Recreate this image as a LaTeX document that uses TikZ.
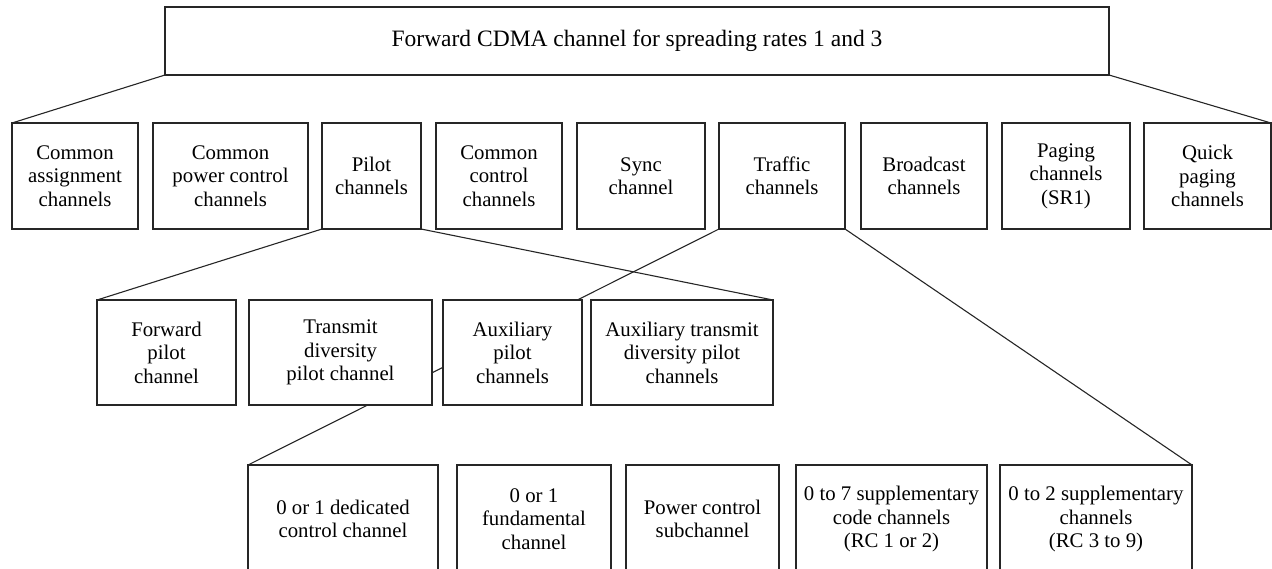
\documentclass[tikz,border=0pt]{standalone}
\usepackage{fontspec}
\setmainfont{Liberation Serif}
\usetikzlibrary{backgrounds}

\tikzset{
  chbox/.style={draw=black!85, line width=1.4pt, fill=white, inner sep=0pt, outer sep=0pt,
    align=center, font=\fontsize{20.8}{23.5}\selectfont},
  link/.style={draw=black!85, line width=1.1pt}
}

\begin{document}
\begin{tikzpicture}[x=1pt,y=-1pt]
  \useasboundingbox (0,0) rectangle (1272,569);
  \node[chbox, minimum width=944pt, minimum height=68pt, font=\fontsize{23.5}{27}\selectfont] (fwd) at (637,41) {Forward CDMA channel for spreading rates 1 and 3};

  \node[chbox, minimum width=126pt, minimum height=106pt] (cach) at (75,176) {Common\\assignment\\channels};
  \node[chbox, minimum width=155pt, minimum height=106pt] (cpcch) at (230.5,176) {Common\\power control\\channels};
  \node[chbox, minimum width=99pt, minimum height=106pt] (pilot) at (371.5,176) {Pilot\\channels};
  \node[chbox, minimum width=126pt, minimum height=106pt] (ccch) at (499,176) {Common\\control\\channels};
  \node[chbox, minimum width=128pt, minimum height=106pt] (sync) at (641,176) {Sync\\channel};
  \node[chbox, minimum width=126pt, minimum height=106pt] (traffic) at (782,176) {Traffic\\channels};
  \node[chbox, minimum width=126pt, minimum height=106pt] (bcch) at (924,176) {Broadcast\\channels};
  \node[chbox, minimum width=128pt, minimum height=106pt] (pch) at (1066,176) {Paging\\channels\\(SR1)};
  \node[chbox, minimum width=127pt, minimum height=106pt] (qpch) at (1207.5,176) {Quick\\paging\\channels};

  \node[chbox, minimum width=139pt, minimum height=105pt] (fpich) at (166.5,352.5) {Forward\\pilot\\channel};
  \node[chbox, minimum width=183pt, minimum height=105pt] (tdpich) at (340.5,352.5) {Transmit\\diversity\\pilot channel};
  \node[chbox, minimum width=139pt, minimum height=105pt] (apich) at (512.5,352.5) {Auxiliary\\pilot\\channels};
  \node[chbox, minimum width=182pt, minimum height=105pt] (atdpich) at (682,352.5) {Auxiliary transmit\\diversity pilot\\channels};

  \node[chbox, minimum width=190pt, minimum height=108pt] (dcch) at (343,519) {0 or 1 dedicated\\control channel};
  \node[chbox, minimum width=154pt, minimum height=108pt] (fch) at (534,519) {0 or 1\\fundamental\\channel};
  \node[chbox, minimum width=153pt, minimum height=108pt] (pcsch) at (702.5,519) {Power control\\subchannel};
  \node[chbox, minimum width=191pt, minimum height=108pt] (scch) at (891.5,519) {0 to 7 supplementary\\code channels\\(RC 1 or 2)};
  \node[chbox, minimum width=192pt, minimum height=108pt] (sch) at (1096,519) {0 to 2 supplementary\\channels\\(RC 3 to 9)};

  \begin{pgfonlayer}{background}
    \draw[link] (fwd.south west) -- (cach.north west);
    \draw[link] (fwd.south east) -- (qpch.north east);
    \draw[link] (pilot.south west) -- (fpich.north west);
    \draw[link] (pilot.south east) -- (atdpich.north east);
    \draw[link] (traffic.south west) -- (dcch.north west);
    \draw[link] (traffic.south east) -- (sch.north east);
  \end{pgfonlayer}
\end{tikzpicture}
\end{document}
